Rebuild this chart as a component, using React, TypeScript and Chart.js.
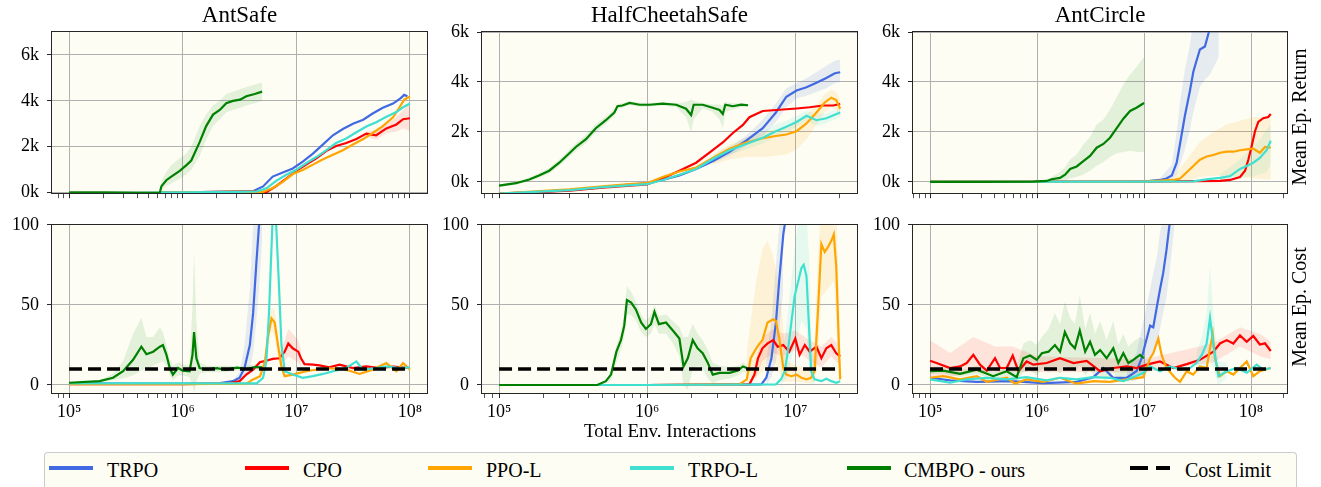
import React, { useEffect, useRef } from "react";
import { Chart, registerables } from "chart.js";

Chart.register(...registerables);

// ---------- style constants ----------
const FONT = "'Liberation Serif', 'Times New Roman', Times, serif";
const BG = "#fdfdf3";
const GRID = "#b0b0b0";
const AXIS = "#262626";

// ---------- labels ----------
const ALGOS = ["TRPO", "CPO", "PPO-L", "TRPO-L", "CMBPO - ours"];
const COLORS = ["#4169e1", "#ff0000", "#ffa500", "#40e0d0", "#008000"];
const BAND_COLORS = [
  "rgba(65,105,225,0.12)",
  "rgba(255,0,0,0.10)",
  "rgba(255,165,0,0.12)",
  "rgba(64,224,208,0.12)",
  "rgba(0,128,0,0.10)",
];
const ENV_TITLES = ["AntSafe", "HalfCheetahSafe", "AntCircle"];
const RETURN_TICKS = [0, 2000, 4000, 6000];
const COST_TICKS = [0, 50, 100];
const COST_LIMIT = 10;
const X_LABEL = "Total Env. Interactions";
const ROW_LABELS = ["Mean Ep. Return", "Mean Ep. Cost"];
const LEGEND_COST = "Cost Limit";

// ================= AntSafe : return =================
const asRetTrpoX = [1e5, 3e5, 1e6, 2e6, 3e6, 4.2e6, 5.1e6, 6.2e6, 7.6e6, 9.3e6, 1.14e7, 1.4e7, 1.72e7, 2.1e7, 2.57e7, 3.15e7, 3.88e7, 4.7e7, 5.77e7, 7.1e7, 8.3e7, 8.9e7, 9.5e7];
const asRetTrpoY = [0, 0, 10, 30, 50, 70, 270, 700, 880, 1050, 1350, 1700, 2100, 2500, 2770, 3000, 3180, 3450, 3700, 3880, 4120, 4260, 4200];
const asRetCpoX = [1e5, 1e6, 3e6, 5.5e6, 6.6e6, 8.1e6, 1e7, 1.22e7, 1.5e7, 1.84e7, 2.24e7, 2.75e7, 3.38e7, 4.13e7, 5.05e7, 6.2e7, 7.6e7, 8.7e7, 1e8];
const asRetCpoY = [0, 10, 40, 30, 270, 600, 950, 1220, 1490, 1820, 2030, 2160, 2340, 2570, 2500, 2800, 2970, 3200, 3240];
const asRetPpoX = [1e5, 1e6, 3e6, 5.1e6, 6.2e6, 7.6e6, 9.3e6, 1.14e7, 1.4e7, 1.72e7, 2.1e7, 2.57e7, 3.15e7, 3.88e7, 4.7e7, 5.77e7, 7.1e7, 8.1e7, 8.9e7, 1e8];
const asRetPpoY = [0, 10, 30, 30, 200, 470, 810, 990, 1220, 1450, 1650, 1850, 2100, 2340, 2600, 2900, 3280, 3720, 4050, 4190];
const asRetTrpolX = [1e5, 1e6, 3e6, 4.5e6, 5.5e6, 6.6e6, 8.1e6, 1e7, 1.22e7, 1.5e7, 1.84e7, 2.24e7, 2.75e7, 3.38e7, 4.13e7, 5.05e7, 6.2e7, 7.6e7, 8.7e7, 1e8];
const asRetTrpolY = [0, 10, 30, 50, 200, 500, 770, 1000, 1280, 1550, 1850, 2160, 2360, 2630, 2880, 3070, 3310, 3510, 3720, 3880];
const asRetCmbpoX = [1e5, 2e5, 4e5, 6.28e5, 6.49e5, 7.18e5, 7.94e5, 9.42e5, 1.08e6, 1.19e6, 1.41e6, 1.61e6, 1.85e6, 2.12e6, 2.42e6, 2.77e6, 3.2e6, 3.63e6, 4.3e6, 5e6];
const asRetCmbpoY = [0, 0, -20, -20, 270, 540, 700, 950, 1200, 1400, 2200, 2900, 3400, 3600, 3900, 4000, 4050, 4200, 4300, 4400];
const asRetCmbpoHi = [0, 0, 0, 0, 500, 900, 1200, 1500, 1700, 2000, 2900, 3400, 3800, 4000, 4300, 4400, 4500, 4600, 4700, 4800];
const asRetCmbpoLo = [0, 0, -40, -40, 100, 300, 400, 600, 800, 1000, 1600, 2300, 2900, 3200, 3500, 3600, 3700, 3800, 3900, 4000];
const asRetCpoBandX = [4.13e7, 5.05e7, 6.2e7, 7.6e7, 8.7e7, 1e8];
const asRetCpoBandHi = [2700, 2700, 3000, 3300, 3600, 3900];
const asRetCpoBandLo = [2450, 2300, 2600, 2650, 2800, 2700];

// ================= AntSafe : cost =================
const asCostTrpoX = [1e5, 5e5, 1e6, 2e6, 2.77e6, 3.17e6, 3.5e6, 3.9e6, 4.17e6, 4.45e6, 4.7e6, 5e6, 1e7, 9.5e7];
const asCostTrpoY = [1, 0.8, 0.8, 0.9, 2.4, 4.5, 10.6, 24.9, 45, 76, 100, 130, 180, 200];
const asCostTrpoBandX = [2.77e6, 3.17e6, 3.5e6, 3.9e6, 4.17e6, 4.45e6, 4.7e6, 5e6];
const asCostTrpoBandHi = [3, 8, 25, 60, 100, 130, 150, 170];
const asCostTrpoBandLo = [2, 3, 5, 10, 20, 40, 60, 90];
const asCostCpoX = [1e5, 1e6, 2.6e6, 3.17e6, 3.63e6, 4.17e6, 4.8e6, 5.45e6, 6.2e6, 7.1e6, 7.9e6, 8.5e6, 9.3e6, 1.04e7, 1.1e7, 1.18e7, 1.4e7, 1.6e7, 1.95e7, 2.4e7, 3.15e7, 4.13e7, 5.4e7, 7.1e7, 1e8];
const asCostCpoY = [0.5, 0.5, 1, 2.4, 6.5, 9.6, 14.3, 15.1, 16.3, 16.7, 20.8, 25.9, 22.9, 20.8, 16.7, 13, 12.7, 12.2, 11, 12.7, 10.6, 11.6, 10.6, 11.4, 10.6];
const asCostCpoBandX = [7.1e6, 7.9e6, 8.5e6, 9.3e6, 1.04e7, 1.1e7];
const asCostCpoBandHi = [20, 28, 35, 32, 28, 22];
const asCostCpoBandLo = [13, 15, 18, 16, 14, 11];
const asCostPpoX = [1e5, 1e6, 3.63e6, 4.17e6, 4.8e6, 5.3e6, 5.6e6, 6.05e6, 6.45e6, 6.9e6, 7.4e6, 7.9e6, 9.3e6, 1.22e7, 1.84e7, 2.75e7, 3.6e7, 4.7e7, 6.2e7, 7.6e7, 8.7e7, 1e8];
const asCostPpoY = [0.5, 0.5, 0.8, 3.5, 5.5, 14.7, 29, 41.6, 39, 24.9, 11.6, 5.5, 6.5, 8.6, 10.6, 9.6, 6.9, 9.6, 13.7, 8.6, 13.7, 9.6];
const asCostPpoBandX = [5.3e6, 5.6e6, 6.05e6, 6.45e6, 6.9e6, 7.4e6];
const asCostPpoBandHi = [20, 38, 48, 47, 33, 16];
const asCostPpoBandLo = [9, 20, 34, 30, 16, 7];
const asCostTrpolX = [1e5, 1e6, 4.5e6, 5.1e6, 5.45e6, 5.75e6, 6.05e6, 6.2e6, 6.6e6, 7.0e6, 7.4e6, 7.9e6, 9.3e6, 1.14e7, 1.4e7, 1.72e7, 2.1e7, 2.75e7, 3.38e7, 3.86e7, 5.05e7, 6.2e7, 8.1e7, 1e8];
const asCostTrpolY = [1, 1, 1, 4.5, 14.7, 45, 86, 105, 105, 66, 25, 8.6, 6.5, 4.5, 5.5, 6.9, 8.6, 10.6, 14.7, 9.6, 10.6, 11.6, 10.6, 11];
const asCostCmbpoX = [1e5, 1.86e5, 2.44e5, 2.99e5, 3.66e5, 4.33e5, 4.8e5, 5.5e5, 6.3e5, 6.7e5, 7.2e5, 7.7e5, 8.2e5, 9.1e5, 1e6, 1.15e6, 1.22e6, 1.26e6, 1.32e6, 1.41e6, 1.62e6, 2e6, 2.4e6, 3e6, 3.63e6, 4.3e6, 5e6];
const asCostCmbpoY = [1.4, 2.4, 4.5, 8.6, 15.7, 23.9, 19.2, 20.8, 23.9, 24.9, 18.8, 10.6, 6.5, 10.6, 9.0, 8.6, 18.8, 33, 16.7, 10.6, 9.6, 10.5, 9.5, 10.8, 10, 11.2, 11];
const asCostCmbpoHi = [1.5, 3, 7, 15, 32, 42, 30, 30, 36, 33, 25, 16, 12, 14, 13, 12, 50, 84, 40, 14, 12, 12, 12, 12, 12, 13, 13];
const asCostCmbpoLo = [1.2, 2, 3, 4, 6, 9, 10, 12, 14, 15, 12, 6, 3, 6, 6, 5, 0, -5, 2, 7, 8, 8, 8, 9, 9, 9, 9];
const asCostLimitX = [1e5, 1e8];

// ================= HalfCheetahSafe : return =================
const hcRetTrpoX = [1e5, 1.6e5, 3e5, 5e5, 7.6e5, 1e6, 1.27e6, 1.65e6, 2.14e6, 2.77e6, 3.6e6, 4.66e6, 6.03e6, 7.4e6, 8.7e6, 1.02e7, 1.19e7, 1.39e7, 1.62e7, 1.85e7, 2.01e7];
const hcRetTrpoY = [-470, -430, -330, -210, -110, -50, 80, 260, 520, 830, 1210, 1650, 2150, 2780, 3410, 3660, 3790, 3970, 4160, 4350, 4390];
const hcRetTrpoBandX = [2.77e6, 3.6e6, 4.66e6, 6.03e6, 7.4e6, 8.7e6, 1.02e7, 1.19e7, 1.39e7, 1.62e7, 1.85e7, 2.01e7];
const hcRetTrpoBandHi = [900, 1350, 1850, 2500, 3150, 3750, 3950, 4150, 4400, 4650, 4850, 4900];
const hcRetTrpoBandLo = [750, 1050, 1450, 1850, 2400, 3000, 3350, 3450, 3600, 3750, 3950, 4000];
const hcRetCpoX = [1e5, 3e5, 5e5, 1e6, 1.27e6, 1.65e6, 2.14e6, 2.77e6, 3.24e6, 3.79e6, 4.43e6, 4.9e6, 5.45e6, 6.03e6, 7.08e6, 8.26e6, 1.02e7, 1.25e7, 1.54e7, 1.8e7, 2.01e7];
const hcRetCpoY = [-470, -350, -230, -100, 140, 450, 770, 1270, 1580, 1960, 2280, 2590, 2720, 2840, 2870, 2900, 2940, 2990, 3060, 3060, 3120];
const hcRetPpoX = [1e5, 2.97e5, 5e5, 7.6e5, 1e6, 1.27e6, 1.65e6, 2.14e6, 2.77e6, 3.6e6, 4.66e6, 6.03e6, 7.4e6, 8.7e6, 1.02e7, 1.19e7, 1.39e7, 1.58e7, 1.75e7, 1.89e7, 2.01e7];
const hcRetPpoY = [-470, -300, -180, -90, -50, 200, 420, 580, 960, 1330, 1580, 1750, 1840, 1900, 2030, 2340, 2780, 3180, 3370, 3280, 2930];
const hcRetPpoBandX = [2.77e6, 3.6e6, 4.66e6, 6.03e6, 7.4e6, 8.7e6, 1.02e7, 1.19e7, 1.39e7, 1.58e7, 1.75e7, 1.89e7, 2.01e7];
const hcRetPpoBandHi = [1100, 1500, 1800, 2000, 2100, 2200, 2400, 2700, 3100, 3500, 3700, 3600, 3300];
const hcRetPpoBandLo = [700, 900, 1000, 1000, 1050, 1100, 1300, 1700, 2300, 2800, 3000, 2900, 2600];
const hcRetTrpolX = [1e5, 3e5, 5e5, 1e6, 1.27e6, 1.65e6, 2.14e6, 2.77e6, 3.6e6, 4.66e6, 6.03e6, 7.4e6, 8.7e6, 1.02e7, 1.19e7, 1.39e7, 1.62e7, 2.01e7];
const hcRetTrpolY = [-470, -330, -210, -90, 80, 290, 520, 920, 1270, 1520, 1770, 2030, 2210, 2400, 2650, 2470, 2550, 2780];
const hcRetTrpolBandX = [2.77e6, 3.6e6, 4.66e6, 6.03e6, 7.4e6, 8.7e6, 1.02e7, 1.19e7, 1.39e7, 1.62e7, 2.01e7];
const hcRetTrpolBandHi = [1050, 1450, 1750, 2000, 2300, 2450, 2650, 2850, 2700, 2750, 2950];
const hcRetTrpolBandLo = [800, 1100, 1300, 1550, 1800, 2000, 2200, 2450, 2250, 2350, 2600];
const hcRetCmbpoX = [1e5, 1.3e5, 1.6e5, 1.86e5, 2.18e5, 2.55e5, 2.97e5, 3.3e5, 3.86e5, 4.5e5, 5.26e5, 6e5, 6.3e5, 6.8e5, 7.6e5, 8.9e5, 1.04e6, 1.27e6, 1.57e6, 1.83e6, 1.98e6, 2.06e6, 2.37e6, 2.77e6, 3.08e6, 3.24e6, 3.37e6, 3.79e6, 4.31e6, 4.8e6];
const hcRetCmbpoY = [-150, -50, 100, 260, 450, 770, 1140, 1400, 1710, 2150, 2470, 2780, 3030, 3060, 3160, 3090, 3090, 3130, 3090, 2930, 2680, 3090, 3090, 2970, 2880, 2720, 3090, 3030, 3090, 3070];
const hcRetCmbpoHi = [-100, 0, 180, 360, 560, 900, 1290, 1560, 1880, 2320, 2620, 2900, 3120, 3150, 3230, 3170, 3160, 3190, 3150, 3200, 3300, 3250, 3150, 3100, 3100, 3050, 3200, 3150, 3150, 3130];
const hcRetCmbpoLo = [-200, -100, 20, 160, 340, 640, 990, 1240, 1540, 1980, 2320, 2650, 2940, 2970, 3080, 3010, 3020, 3060, 3000, 2600, 2000, 2500, 2950, 2800, 2500, 2150, 2800, 2900, 3000, 3000];

// ================= HalfCheetahSafe : cost =================
const hcCostTrpoX = [1e5, 1e6, 5.9e6, 6.37e6, 6.9e6, 7.4e6, 7.8e6, 8.3e6, 8.55e6, 9e6, 1.2e7, 2.01e7];
const hcCostTrpoY = [0, 0, 0.4, 4.5, 16.7, 39, 66, 94, 102, 120, 160, 200];
const hcCostTrpoBandX = [6.37e6, 6.9e6, 7.4e6, 7.8e6, 8.3e6];
const hcCostTrpoBandHi = [15, 40, 75, 100, 120];
const hcCostTrpoBandLo = [0, 5, 15, 35, 60];
const hcCostCpoX = [1e5, 1e6, 4.9e6, 5.3e6, 5.6e6, 6.0e6, 6.5e6, 7.1e6, 7.6e6, 8.3e6, 9.1e6, 1e7, 1.07e7, 1.16e7, 1.25e7, 1.39e7, 1.5e7, 1.62e7, 1.75e7, 1.89e7, 2.01e7];
const hcCostCpoY = [0, 0, 0.4, 6.5, 16.7, 22.9, 26, 28, 23.9, 24.9, 20.8, 29, 18.8, 24.9, 20.8, 23.9, 16.7, 22.9, 24.9, 19.8, 17.8];
const hcCostCpoBandX = [5.3e6, 6e6, 7.1e6, 8.3e6, 1e7, 1.25e7, 1.5e7, 1.75e7, 2.01e7];
const hcCostCpoBandHi = [12, 30, 35, 32, 34, 28, 24, 30, 24];
const hcCostCpoBandLo = [2, 15, 20, 18, 22, 15, 11, 18, 12];
const hcCostPpoX = [1e5, 1e6, 4.2e6, 4.7e6, 5.0e6, 5.45e6, 5.75e6, 6.0e6, 6.5e6, 7.1e6, 7.4e6, 7.8e6, 8.3e6, 8.7e6, 9.4e6, 1.02e7, 1.1e7, 1.19e7, 1.28e7, 1.35e7, 1.42e7, 1.5e7, 1.58e7, 1.66e7, 1.75e7, 1.82e7, 1.89e7, 1.97e7, 2.01e7];
const hcCostPpoY = [0, 0, 0.4, 3.5, 16.7, 22.9, 26, 28, 39, 41, 40, 29, 10.6, 6.5, 5.5, 6.5, 4.5, 3.5, 4.5, 8.6, 45, 88, 83, 86, 90, 94, 74, 25, 3.5];
const hcCostPpoBandX = [4.7e6, 5.0e6, 5.45e6, 6.0e6, 6.5e6, 7.1e6, 7.8e6, 8.3e6, 8.7e6, 1.02e7, 1.28e7, 1.35e7, 1.42e7, 1.5e7, 1.66e7, 1.82e7, 1.89e7, 1.97e7, 2.01e7];
const hcCostPpoBandHi = [20, 40, 65, 85, 90, 80, 60, 35, 15, 12, 10, 25, 80, 115, 120, 120, 110, 60, 10];
const hcCostPpoBandLo = [0, 2, 5, 8, 15, 15, 8, 2, 2, 2, 1, 2, 15, 55, 60, 65, 40, 5, 0];
const hcCostTrpolX = [1e5, 1e6, 7.4e6, 8.0e6, 8.5e6, 8.9e6, 9.4e6, 9.9e6, 1.04e7, 1.1e7, 1.14e7, 1.19e7, 1.24e7, 1.28e7, 1.35e7, 1.5e7, 1.62e7, 1.75e7, 1.89e7, 2.01e7];
const hcCostTrpolY = [0, 0, 0.4, 3.5, 8.6, 20.8, 39, 55.5, 63.7, 73, 75, 68, 35, 8.6, 3.5, 2.4, 3.9, 2.4, 1.4, 2.4];
const hcCostTrpolBandX = [8.0e6, 8.9e6, 9.9e6, 1.04e7, 1.1e7, 1.19e7, 1.24e7, 1.28e7, 1.35e7];
const hcCostTrpolBandHi = [10, 45, 85, 100, 105, 105, 80, 30, 8];
const hcCostTrpolBandLo = [0, 5, 25, 30, 40, 35, 10, 2, 0];
const hcCostCmbpoX = [1e5, 4.6e5, 5.26e5, 5.7e5, 6.2e5, 6.65e5, 7e5, 7.3e5, 7.8e5, 8.4e5, 9.1e5, 9.8e5, 1.06e6, 1.12e6, 1.2e6, 1.34e6, 1.49e6, 1.65e6, 1.76e6, 1.88e6, 2.03e6, 2.19e6, 2.37e6, 2.57e6, 2.77e6, 3.08e6, 3.6e6, 4.1e6, 4.43e6, 4.7e6];
const hcCostCmbpoY = [0, 0, 2.4, 6.5, 20.8, 28, 37, 53, 51.4, 47, 39, 35, 38, 45.7, 38, 39, 34, 29, 11.6, 16.7, 28, 22.9, 19.8, 13.7, 6.5, 7.6, 7.6, 9, 11.6, 10.6];
const hcCostCmbpoHi = [0, 0, 3, 9, 25, 33, 45, 62, 58, 52, 44, 40, 44, 50, 43, 44, 40, 36, 30, 30, 38, 32, 28, 22, 14, 12, 11, 12, 14, 13];
const hcCostCmbpoLo = [0, 0, 1, 3, 14, 22, 30, 44, 44, 40, 33, 30, 32, 38, 32, 32, 26, 18, 0, -3, 10, 12, 10, 4, 1, 3, 4, 6, 8, 8];
const hcCostLimitX = [1e5, 2.01e7];

// ================= AntCircle : return =================
const acRetTrpoX = [1e5, 1e7, 1.41e7, 1.62e7, 1.82e7, 2.02e7, 2.17e7, 2.41e7, 2.69e7, 2.89e7, 3.1e7, 3.33e7, 3.71e7, 3.99e7, 4.14e7, 5e7, 1.5e8];
const acRetTrpoY = [0, 10, 80, 140, 260, 770, 1520, 2650, 3660, 4410, 4860, 5300, 5420, 5920, 6200, 7500, 9000];
const acRetTrpoBandX = [1.41e7, 1.82e7, 2.02e7, 2.17e7, 2.41e7, 2.69e7, 2.89e7, 3.1e7, 3.33e7, 3.71e7, 4.14e7, 5e7];
const acRetTrpoBandHi = [150, 700, 2000, 3200, 4500, 5500, 6500, 7000, 7500, 8000, 8500, 9000];
const acRetTrpoBandLo = [30, 100, 300, 700, 1300, 2100, 2800, 3300, 3800, 4100, 4300, 5000];
const acRetCpoX = [1e5, 1e7, 5.13e7, 6.37e7, 7.9e7, 8.8e7, 9.44e7, 1.01e8, 1.09e8, 1.17e8, 1.3e8, 1.45e8, 1.53e8];
const acRetCpoY = [0, 10, 40, 80, 200, 450, 890, 1400, 2030, 2400, 2550, 2600, 2720];
const acRetPpoX = [1e5, 1e7, 1.88e7, 2.17e7, 2.51e7, 2.89e7, 3.33e7, 3.85e7, 4.45e7, 5.13e7, 5.93e7, 6.84e7, 7.9e7, 9.1e7, 1.05e8, 1.21e8, 1.35e8, 1.53e8];
const acRetPpoY = [0, 10, 80, 140, 390, 640, 890, 1020, 1080, 1170, 1210, 1210, 1270, 1300, 1330, 1170, 1400, 1370];
const acRetPpoBandX = [1.88e7, 2.51e7, 3.33e7, 4.45e7, 5.93e7, 7.9e7, 1.05e8, 1.35e8, 1.53e8];
const acRetPpoBandHi = [200, 900, 1600, 2000, 2300, 2450, 2600, 2600, 2500];
const acRetPpoBandLo = [0, 50, 200, 250, 250, 200, 150, 100, 100];
const acRetTrpolX = [1e5, 1e7, 2.89e7, 3.85e7, 5.13e7, 6.37e7, 7.9e7, 9.1e7, 1.05e8, 1.21e8, 1.4e8, 1.53e8];
const acRetTrpolY = [0, 10, 20, 100, 160, 230, 520, 640, 770, 960, 1270, 1650];
const acRetTrpolBandX = [5.13e7, 7.9e7, 1.05e8, 1.21e8, 1.4e8, 1.53e8];
const acRetTrpolBandHi = [300, 900, 1400, 1700, 2100, 2300];
const acRetTrpolBandLo = [50, 150, 250, 300, 400, 700];
const acRetCmbpoX = [1e5, 3e5, 9.2e5, 1.23e6, 1.37e6, 1.64e6, 1.83e6, 2.04e6, 2.35e6, 2.71e6, 3.13e6, 3.61e6, 4.17e6, 4.81e6, 5.56e6, 6.41e6, 7.41e6, 8.5e6, 1e7];
const acRetCmbpoY = [0, 0, 10, 40, 110, 160, 290, 520, 620, 830, 1040, 1370, 1520, 1770, 2150, 2530, 2840, 2970, 3160];
const acRetCmbpoHi = [0, 0, 20, 80, 200, 400, 600, 900, 1100, 1500, 1800, 2300, 2500, 2900, 3400, 3900, 4300, 4600, 5000];
const acRetCmbpoLo = [0, 0, 0, 10, 40, 50, 80, 150, 200, 300, 450, 650, 800, 1000, 1150, 1200, 1250, 1200, 1200];

// ================= AntCircle : cost =================
const acCostTrpoX = [1e5, 1.54e5, 2.73e5, 5.6e5, 1.15e6, 2.34e6, 3.36e6, 4.17e6, 5.16e6, 6.89e6, 8.51e6, 9.5e6, 1.06e7, 1.14e7, 1.22e7, 1.32e7, 1.41e7, 1.51e7, 1.62e7, 1.73e7, 2e7, 1.53e8];
const acCostTrpoY = [4.5, 2.9, 2, 2.4, 1.2, 2, 4.9, 10.6, 4.5, 4.5, 8.6, 16.7, 29, 37, 36, 49, 59.6, 69.8, 84, 100, 150, 200];
const acCostTrpoBandX = [6.89e6, 8.51e6, 9.5e6, 1.06e7, 1.14e7, 1.22e7, 1.32e7, 1.41e7, 1.51e7, 1.62e7, 1.73e7, 2e7];
const acCostTrpoBandHi = [8, 20, 35, 50, 60, 70, 80, 95, 105, 115, 130, 170];
const acCostTrpoBandLo = [2, 3, 5, 10, 15, 20, 25, 35, 45, 55, 70, 110];
const acCostCpoX = [1e5, 1.15e5, 1.54e5, 1.91e5, 2.2e5, 2.54e5, 2.93e5, 3.39e5, 4.05e5, 4.51e5, 5.21e5, 5.93e5, 6.7e5, 8e5, 9.25e5, 1.23e6, 1.64e6, 2.19e6, 2.91e6, 3.89e6, 5.16e6, 6.89e6, 8.51e6, 1.06e7, 1.41e7, 1.88e7, 2.51e7, 3.33e7, 4.45e7, 5.13e7, 5.93e7, 6.84e7, 7.89e7, 9.12e7, 1.05e8, 1.21e8, 1.35e8, 1.53e8];
const acCostCpoY = [15.1, 13.7, 10.6, 11.6, 13.7, 18.8, 12.7, 9, 16.7, 10.6, 10.6, 18.4, 8.6, 14.7, 12.7, 13.7, 16.7, 13.7, 15.1, 8.6, 10.6, 11.6, 10.6, 12.7, 14.7, 10.6, 13, 15.7, 20.8, 25.9, 28, 25.9, 31, 27, 30.6, 25.3, 26, 21.2];
const acCostCpoBandX = [1e5, 1.54e5, 2.54e5, 4.05e5, 5.93e5, 1e6, 1e7, 4.45e7, 7.89e7, 1.21e8, 1.53e8];
const acCostCpoBandHi = [28, 20, 30, 24, 24, 18, 16, 26, 36, 32, 27];
const acCostCpoBandLo = [5, 5, 8, 8, 8, 8, 8, 14, 24, 18, 16];
const acCostPpoX = [1e5, 1.33e5, 1.91e5, 2.73e5, 3.39e5, 5.21e5, 6.22e5, 7.94e5, 1.15e6, 1.64e6, 2.34e6, 3.36e6, 4.79e6, 6.89e6, 9.86e6, 1.14e7, 1.22e7, 1.36e7, 1.46e7, 1.62e7, 1.95e7, 2.17e7, 2.51e7, 2.88e7, 3.33e7, 3.85e7, 4.14e7, 4.39e7, 4.6e7, 5.13e7, 5.93e7, 6.84e7, 7.89e7, 9.12e7, 1.05e8, 1.21e8, 1.53e8];
const acCostPpoY = [4.5, 5.5, 3.5, 5.5, 2, 4.5, 0.8, 3.5, 2, 4.5, 0.8, 2.4, 2, 3.5, 4.9, 16.7, 19.8, 29, 18.8, 10.6, 4.5, 2, 8.6, 6.5, 11.6, 10.6, 22.9, 32, 16.7, 5.5, 8.6, 6.5, 10.6, 14.7, 5.5, 8.6, 10.6];
const acCostTrpolX = [1e5, 1.54e5, 2.2e5, 3.39e5, 5.21e5, 7.94e5, 1.23e6, 1.64e6, 2.34e6, 3.36e6, 4.79e6, 6.41e6, 7.94e6, 9.86e6, 1.14e7, 1.41e7, 1.75e7, 2.17e7, 2.69e7, 3.09e7, 3.47e7, 3.85e7, 4.14e7, 4.45e7, 4.95e7, 5.93e7, 7.35e7, 9.12e7, 1.13e8, 1.3e8, 1.53e8];
const acCostTrpolY = [3.5, 1.4, 3.5, 4.5, 3.5, 4.9, 2.9, 4.5, 3.5, 4.9, 4.5, 2.4, 4.9, 7.6, 11.6, 8.6, 11.6, 9.6, 10.6, 13.7, 18.8, 26, 42, 25, 5.5, 8.6, 10.6, 7.6, 12.7, 9.6, 10.6];
const acCostTrpolBandX = [3.09e7, 3.47e7, 3.85e7, 4.14e7, 4.45e7, 4.95e7, 5.93e7];
const acCostTrpolBandHi = [20, 30, 45, 75, 45, 15, 14];
const acCostTrpolBandLo = [8, 10, 12, 18, 10, 0, 4];
const acCostCmbpoX = [1e5, 1.33e5, 1.91e5, 2.73e5, 3.89e5, 5.21e5, 6.46e5, 7.45e5, 8.61e5, 9.93e5, 1.11e6, 1.28e6, 1.47e6, 1.64e6, 1.82e6, 2.04e6, 2.26e6, 2.51e6, 2.82e6, 3.13e6, 3.48e6, 3.89e6, 4.47e6, 5.16e6, 5.75e6, 6.41e6, 7.14e6, 7.94e6, 9.18e6, 1e7];
const acCostCmbpoY = [8.6, 9, 6.9, 9.6, 5.5, 8.6, 4.9, 16.7, 18.4, 15.7, 19.8, 20.8, 24.9, 20.8, 33, 26, 22.9, 34, 20.8, 27, 18.8, 21.8, 16.7, 22.9, 13.7, 19.8, 13.7, 15.7, 18.8, 16.7];
const acCostCmbpoHi = [10, 11, 9, 12, 8, 12, 10, 26, 28, 25, 30, 35, 45, 38, 52, 42, 38, 56, 35, 45, 32, 40, 28, 40, 25, 32, 24, 27, 30, 28];
const acCostCmbpoLo = [7, 7, 5, 7, 3, 5, 2, 8, 9, 6, 10, 8, 10, 7, 12, 10, 8, 12, 6, 10, 5, 6, 4, 8, 2, 6, 3, 4, 6, 5];
const acCostLimitX = [1e5, 1.53e8];

// ---------- axis limits ----------
const X_LIMITS = [
  [7.08e4, 1.413e8],
  [7.67e4, 2.61e7],
  [6.93e4, 2.17e8],
];
const RETURN_LIMITS = [
  [-25, 7000],
  [-450, 6000],
  [-450, 6000],
];
const COST_LIMITS_Y = [-5, 100];

// ---------- types ----------
type Line = { x: number[]; y: number[] };
type Band = { algo: number; x: number[]; lo: number[]; hi: number[] };
type PanelDef = {
  col: number;
  row: number;
  lines: Line[];
  bands: Band[];
  limitX?: number[];
};

const PANELS: PanelDef[] = [
  {
    col: 0, row: 0,
    lines: [
      { x: asRetTrpoX, y: asRetTrpoY },
      { x: asRetCpoX, y: asRetCpoY },
      { x: asRetPpoX, y: asRetPpoY },
      { x: asRetTrpolX, y: asRetTrpolY },
      { x: asRetCmbpoX, y: asRetCmbpoY },
    ],
    bands: [
      { algo: 4, x: asRetCmbpoX, lo: asRetCmbpoLo, hi: asRetCmbpoHi },
      { algo: 1, x: asRetCpoBandX, lo: asRetCpoBandLo, hi: asRetCpoBandHi },
    ],
  },
  {
    col: 1, row: 0,
    lines: [
      { x: hcRetTrpoX, y: hcRetTrpoY },
      { x: hcRetCpoX, y: hcRetCpoY },
      { x: hcRetPpoX, y: hcRetPpoY },
      { x: hcRetTrpolX, y: hcRetTrpolY },
      { x: hcRetCmbpoX, y: hcRetCmbpoY },
    ],
    bands: [
      { algo: 4, x: hcRetCmbpoX, lo: hcRetCmbpoLo, hi: hcRetCmbpoHi },
      { algo: 0, x: hcRetTrpoBandX, lo: hcRetTrpoBandLo, hi: hcRetTrpoBandHi },
      { algo: 2, x: hcRetPpoBandX, lo: hcRetPpoBandLo, hi: hcRetPpoBandHi },
      { algo: 3, x: hcRetTrpolBandX, lo: hcRetTrpolBandLo, hi: hcRetTrpolBandHi },
    ],
  },
  {
    col: 2, row: 0,
    lines: [
      { x: acRetTrpoX, y: acRetTrpoY },
      { x: acRetCpoX, y: acRetCpoY },
      { x: acRetPpoX, y: acRetPpoY },
      { x: acRetTrpolX, y: acRetTrpolY },
      { x: acRetCmbpoX, y: acRetCmbpoY },
    ],
    bands: [
      { algo: 4, x: acRetCmbpoX, lo: acRetCmbpoLo, hi: acRetCmbpoHi },
      { algo: 0, x: acRetTrpoBandX, lo: acRetTrpoBandLo, hi: acRetTrpoBandHi },
      { algo: 2, x: acRetPpoBandX, lo: acRetPpoBandLo, hi: acRetPpoBandHi },
      { algo: 3, x: acRetTrpolBandX, lo: acRetTrpolBandLo, hi: acRetTrpolBandHi },
    ],
  },
  {
    col: 0, row: 1,
    lines: [
      { x: asCostTrpoX, y: asCostTrpoY },
      { x: asCostCpoX, y: asCostCpoY },
      { x: asCostPpoX, y: asCostPpoY },
      { x: asCostTrpolX, y: asCostTrpolY },
      { x: asCostCmbpoX, y: asCostCmbpoY },
    ],
    bands: [
      { algo: 4, x: asCostCmbpoX, lo: asCostCmbpoLo, hi: asCostCmbpoHi },
      { algo: 0, x: asCostTrpoBandX, lo: asCostTrpoBandLo, hi: asCostTrpoBandHi },
      { algo: 1, x: asCostCpoBandX, lo: asCostCpoBandLo, hi: asCostCpoBandHi },
      { algo: 2, x: asCostPpoBandX, lo: asCostPpoBandLo, hi: asCostPpoBandHi },
    ],
    limitX: asCostLimitX,
  },
  {
    col: 1, row: 1,
    lines: [
      { x: hcCostTrpoX, y: hcCostTrpoY },
      { x: hcCostCpoX, y: hcCostCpoY },
      { x: hcCostPpoX, y: hcCostPpoY },
      { x: hcCostTrpolX, y: hcCostTrpolY },
      { x: hcCostCmbpoX, y: hcCostCmbpoY },
    ],
    bands: [
      { algo: 4, x: hcCostCmbpoX, lo: hcCostCmbpoLo, hi: hcCostCmbpoHi },
      { algo: 0, x: hcCostTrpoBandX, lo: hcCostTrpoBandLo, hi: hcCostTrpoBandHi },
      { algo: 1, x: hcCostCpoBandX, lo: hcCostCpoBandLo, hi: hcCostCpoBandHi },
      { algo: 2, x: hcCostPpoBandX, lo: hcCostPpoBandLo, hi: hcCostPpoBandHi },
      { algo: 3, x: hcCostTrpolBandX, lo: hcCostTrpolBandLo, hi: hcCostTrpolBandHi },
    ],
    limitX: hcCostLimitX,
  },
  {
    col: 2, row: 1,
    lines: [
      { x: acCostTrpoX, y: acCostTrpoY },
      { x: acCostCpoX, y: acCostCpoY },
      { x: acCostPpoX, y: acCostPpoY },
      { x: acCostTrpolX, y: acCostTrpolY },
      { x: acCostCmbpoX, y: acCostCmbpoY },
    ],
    bands: [
      { algo: 4, x: acCostCmbpoX, lo: acCostCmbpoLo, hi: acCostCmbpoHi },
      { algo: 0, x: acCostTrpoBandX, lo: acCostTrpoBandLo, hi: acCostTrpoBandHi },
      { algo: 1, x: acCostCpoBandX, lo: acCostCpoBandLo, hi: acCostCpoBandHi },
      { algo: 3, x: acCostTrpolBandX, lo: acCostTrpolBandLo, hi: acCostTrpolBandHi },
    ],
    limitX: acCostLimitX,
  },
];

// ---------- layout (page pixels of each plot area) ----------
const COL_LEFT = [52, 482, 913];
const COL_RIGHT = [427, 857, 1287];
const ROW_TOP = [32, 220];
const ROW_BOTTOM = [202, 393];
const Y_AXIS_W = 52;
const RIGHT_PAD = 20;
const X_AXIS_H = [10, 40];
const TOP_PAD = [0, 14];

// ---------- helpers ----------
const SUP: Record<string, string> = { "0": "⁰", "1": "¹", "2": "²", "3": "³", "4": "⁴", "5": "⁵", "6": "⁶", "7": "⁷", "8": "⁸", "9": "⁹", "-": "⁻" };
const isPow10 = (v: number) => {
  const l = Math.log10(v);
  return Math.abs(l - Math.round(l)) < 1e-9;
};
const logTicks = (min: number, max: number) => {
  const out: number[] = [];
  for (let e = Math.floor(Math.log10(min)); e <= Math.ceil(Math.log10(max)); e++) {
    for (let m = 1; m <= 9; m++) {
      const v = m * Math.pow(10, e);
      if (v >= min && v <= max) out.push(v);
    }
  }
  return out;
};
const zip = (xs: number[], ys: number[]) => xs.map((x, i) => ({ x, y: ys[i] }));

function buildDatasets(p: PanelDef) {
  const ds: any[] = [];
  if (p.limitX) {
    ds.push({
      data: p.limitX.map((x) => ({ x, y: COST_LIMIT })),
      borderColor: "#000",
      borderWidth: 3.5,
      borderDash: [13, 6],
      pointRadius: 0,
      fill: false,
    });
  }
  for (let a = 4; a >= 0; a--) {
    const l = p.lines[a];
    ds.push({
      data: zip(l.x, l.y),
      borderColor: COLORS[a],
      borderWidth: 2.2,
      pointRadius: 0,
      fill: false,
      tension: 0,
    });
  }
  for (const b of p.bands) {
    ds.push({ data: zip(b.x, b.lo), borderColor: "rgba(0,0,0,0)", borderWidth: 0, pointRadius: 0, fill: false });
    ds.push({ data: zip(b.x, b.hi), borderColor: "rgba(0,0,0,0)", borderWidth: 0, pointRadius: 0, fill: "-1", backgroundColor: BAND_COLORS[b.algo] });
  }
  return ds;
}

const framePlugin = {
  id: "frame",
  beforeDraw(chart: any) {
    const { ctx, chartArea: a } = chart;
    ctx.save();
    ctx.fillStyle = BG;
    ctx.fillRect(a.left, a.top, a.right - a.left, a.bottom - a.top);
    ctx.restore();
  },
  afterDraw(chart: any) {
    const { ctx, chartArea: a } = chart;
    ctx.save();
    ctx.strokeStyle = AXIS;
    ctx.lineWidth = 1;
    ctx.strokeRect(Math.round(a.left) - 0.5, Math.round(a.top) - 0.5, Math.round(a.right - a.left) + 1, Math.round(a.bottom - a.top) + 1);
    ctx.restore();
  },
};

function Panel({ p }: { p: PanelDef }) {
  const ref = useRef<HTMLCanvasElement>(null);
  const left = COL_LEFT[p.col] - Y_AXIS_W;
  const width = COL_RIGHT[p.col] - COL_LEFT[p.col] + Y_AXIS_W + RIGHT_PAD;
  const top = ROW_TOP[p.row] - (p.row === 0 ? 32 : TOP_PAD[1]);
  const height = (p.row === 0 ? 32 : TOP_PAD[1]) + ROW_BOTTOM[p.row] - ROW_TOP[p.row] + X_AXIS_H[p.row];

  useEffect(() => {
    const [xMin, xMax] = X_LIMITS[p.col];
    const [yMin, yMax] = p.row === 0 ? RETURN_LIMITS[p.col] : COST_LIMITS_Y;
    const yTicks = p.row === 0 ? RETURN_TICKS : COST_TICKS;
    const showX = p.row === 1;
    const chart = new Chart(ref.current as HTMLCanvasElement, {
      type: "line",
      data: { datasets: buildDatasets(p) },
      options: {
        animation: false,
        responsive: false,
        events: [],
        layout: { padding: { left: 0, right: RIGHT_PAD, top: p.row === 0 ? 0 : TOP_PAD[1], bottom: 0 } },
        plugins: {
          legend: { display: false },
          tooltip: { enabled: false },
          title: {
            display: p.row === 0,
            text: ENV_TITLES[p.col],
            fullSize: false,
            color: "#000",
            font: { family: FONT, size: 23, weight: "normal" },
            padding: { top: 2.6, bottom: 1.8 },
          },
        },
        scales: {
          x: {
            type: "logarithmic",
            min: xMin,
            max: xMax,
            afterBuildTicks: (s: any) => {
              s.ticks = logTicks(xMin, xMax).map((v) => ({ value: v }));
            },
            afterFit: (s: any) => {
              s.height = X_AXIS_H[p.row];
            },
            ticks: {
              autoSkip: false,
              maxRotation: 0,
              minRotation: 0,
              padding: 3,
              color: "#000",
              font: { family: FONT, size: 18 },
              callback: (v: any) => {
                const n = Number(v);
                if (!showX || !isPow10(n)) return "";
                const e = String(Math.round(Math.log10(n)));
                return "10" + e.split("").map((c) => SUP[c]).join("");
              },
            },
            grid: {
              color: (c: any) => (c.tick && isPow10(c.tick.value) ? GRID : "rgba(0,0,0,0)"),
              tickColor: AXIS,
              tickLength: 5,
              lineWidth: 1,
              tickWidth: (c: any) => (c.tick && isPow10(c.tick.value) ? 1 : 0.8),
            },
            border: { display: false },
          },
          y: {
            type: "linear",
            min: yMin,
            max: yMax,
            afterBuildTicks: (s: any) => {
              s.ticks = yTicks.map((v) => ({ value: v }));
            },
            afterFit: (s: any) => {
              s.width = Y_AXIS_W;
            },
            ticks: {
              padding: 8,
              color: "#000",
              font: { family: FONT, size: 18 },
              callback: (v: any) => (p.row === 0 ? `${Number(v) / 1000}k` : String(v)),
            },
            grid: { color: GRID, tickColor: AXIS, tickLength: 5, lineWidth: 1 },
            border: { display: false },
          },
        },
      } as any,
      plugins: [framePlugin],
    });
    return () => chart.destroy();
  }, []);

  return (
    <canvas
      ref={ref}
      width={width}
      height={height}
      style={{ position: "absolute", left, top, width, height }}
    />
  );
}

const LEGEND_LINE_X = [49, 245, 428, 630, 847];
const LEGEND_TEXT_X = [107, 303, 486, 688, 904];

export default function App() {
  const text: React.CSSProperties = { position: "absolute", fontFamily: FONT, color: "#000", whiteSpace: "nowrap" };
  return (
    <div style={{ position: "absolute", left: 0, top: 0, width: 1321, height: 487, overflow: "hidden", background: "#fff" }}>
      {PANELS.map((p, i) => (
        <Panel key={i} p={p} />
      ))}
      <div style={{ ...text, left: 520, width: 300, top: 420, fontSize: 19, lineHeight: "21px", textAlign: "center" }}>{X_LABEL}</div>
      {ROW_LABELS.map((t, r) => (
        <div
          key={t}
          style={{
            ...text,
            left: 1298.5,
            top: (ROW_TOP[r] + ROW_BOTTOM[r]) / 2,
            fontSize: 20,
            lineHeight: "22px",
            transform: "translate(-50%, -50%) rotate(-90deg)",
          }}
        >
          {t}
        </div>
      ))}
      <div
        style={{
          position: "absolute",
          left: 44,
          top: 452,
          width: 1253,
          height: 35,
          boxSizing: "border-box",
          border: "1px solid #cccccc",
          borderBottom: "none",
          borderRadius: "4px 4px 0 0",
          background: BG,
        }}
      />
      {ALGOS.map((a, i) => (
        <React.Fragment key={a}>
          <div style={{ position: "absolute", left: LEGEND_LINE_X[i], top: 466.3, width: 44, height: 4, background: COLORS[i] }} />
          <div style={{ ...text, left: LEGEND_TEXT_X[i], top: 459, fontSize: 20, lineHeight: "22px" }}>{a}</div>
        </React.Fragment>
      ))}
      <div style={{ position: "absolute", left: 1130, top: 466.3, width: 18, height: 4, background: "#000" }} />
      <div style={{ position: "absolute", left: 1156, top: 466.3, width: 14, height: 4, background: "#000" }} />
      <div style={{ ...text, left: 1185, top: 459, fontSize: 20, lineHeight: "22px" }}>{LEGEND_COST}</div>
    </div>
  );
}
